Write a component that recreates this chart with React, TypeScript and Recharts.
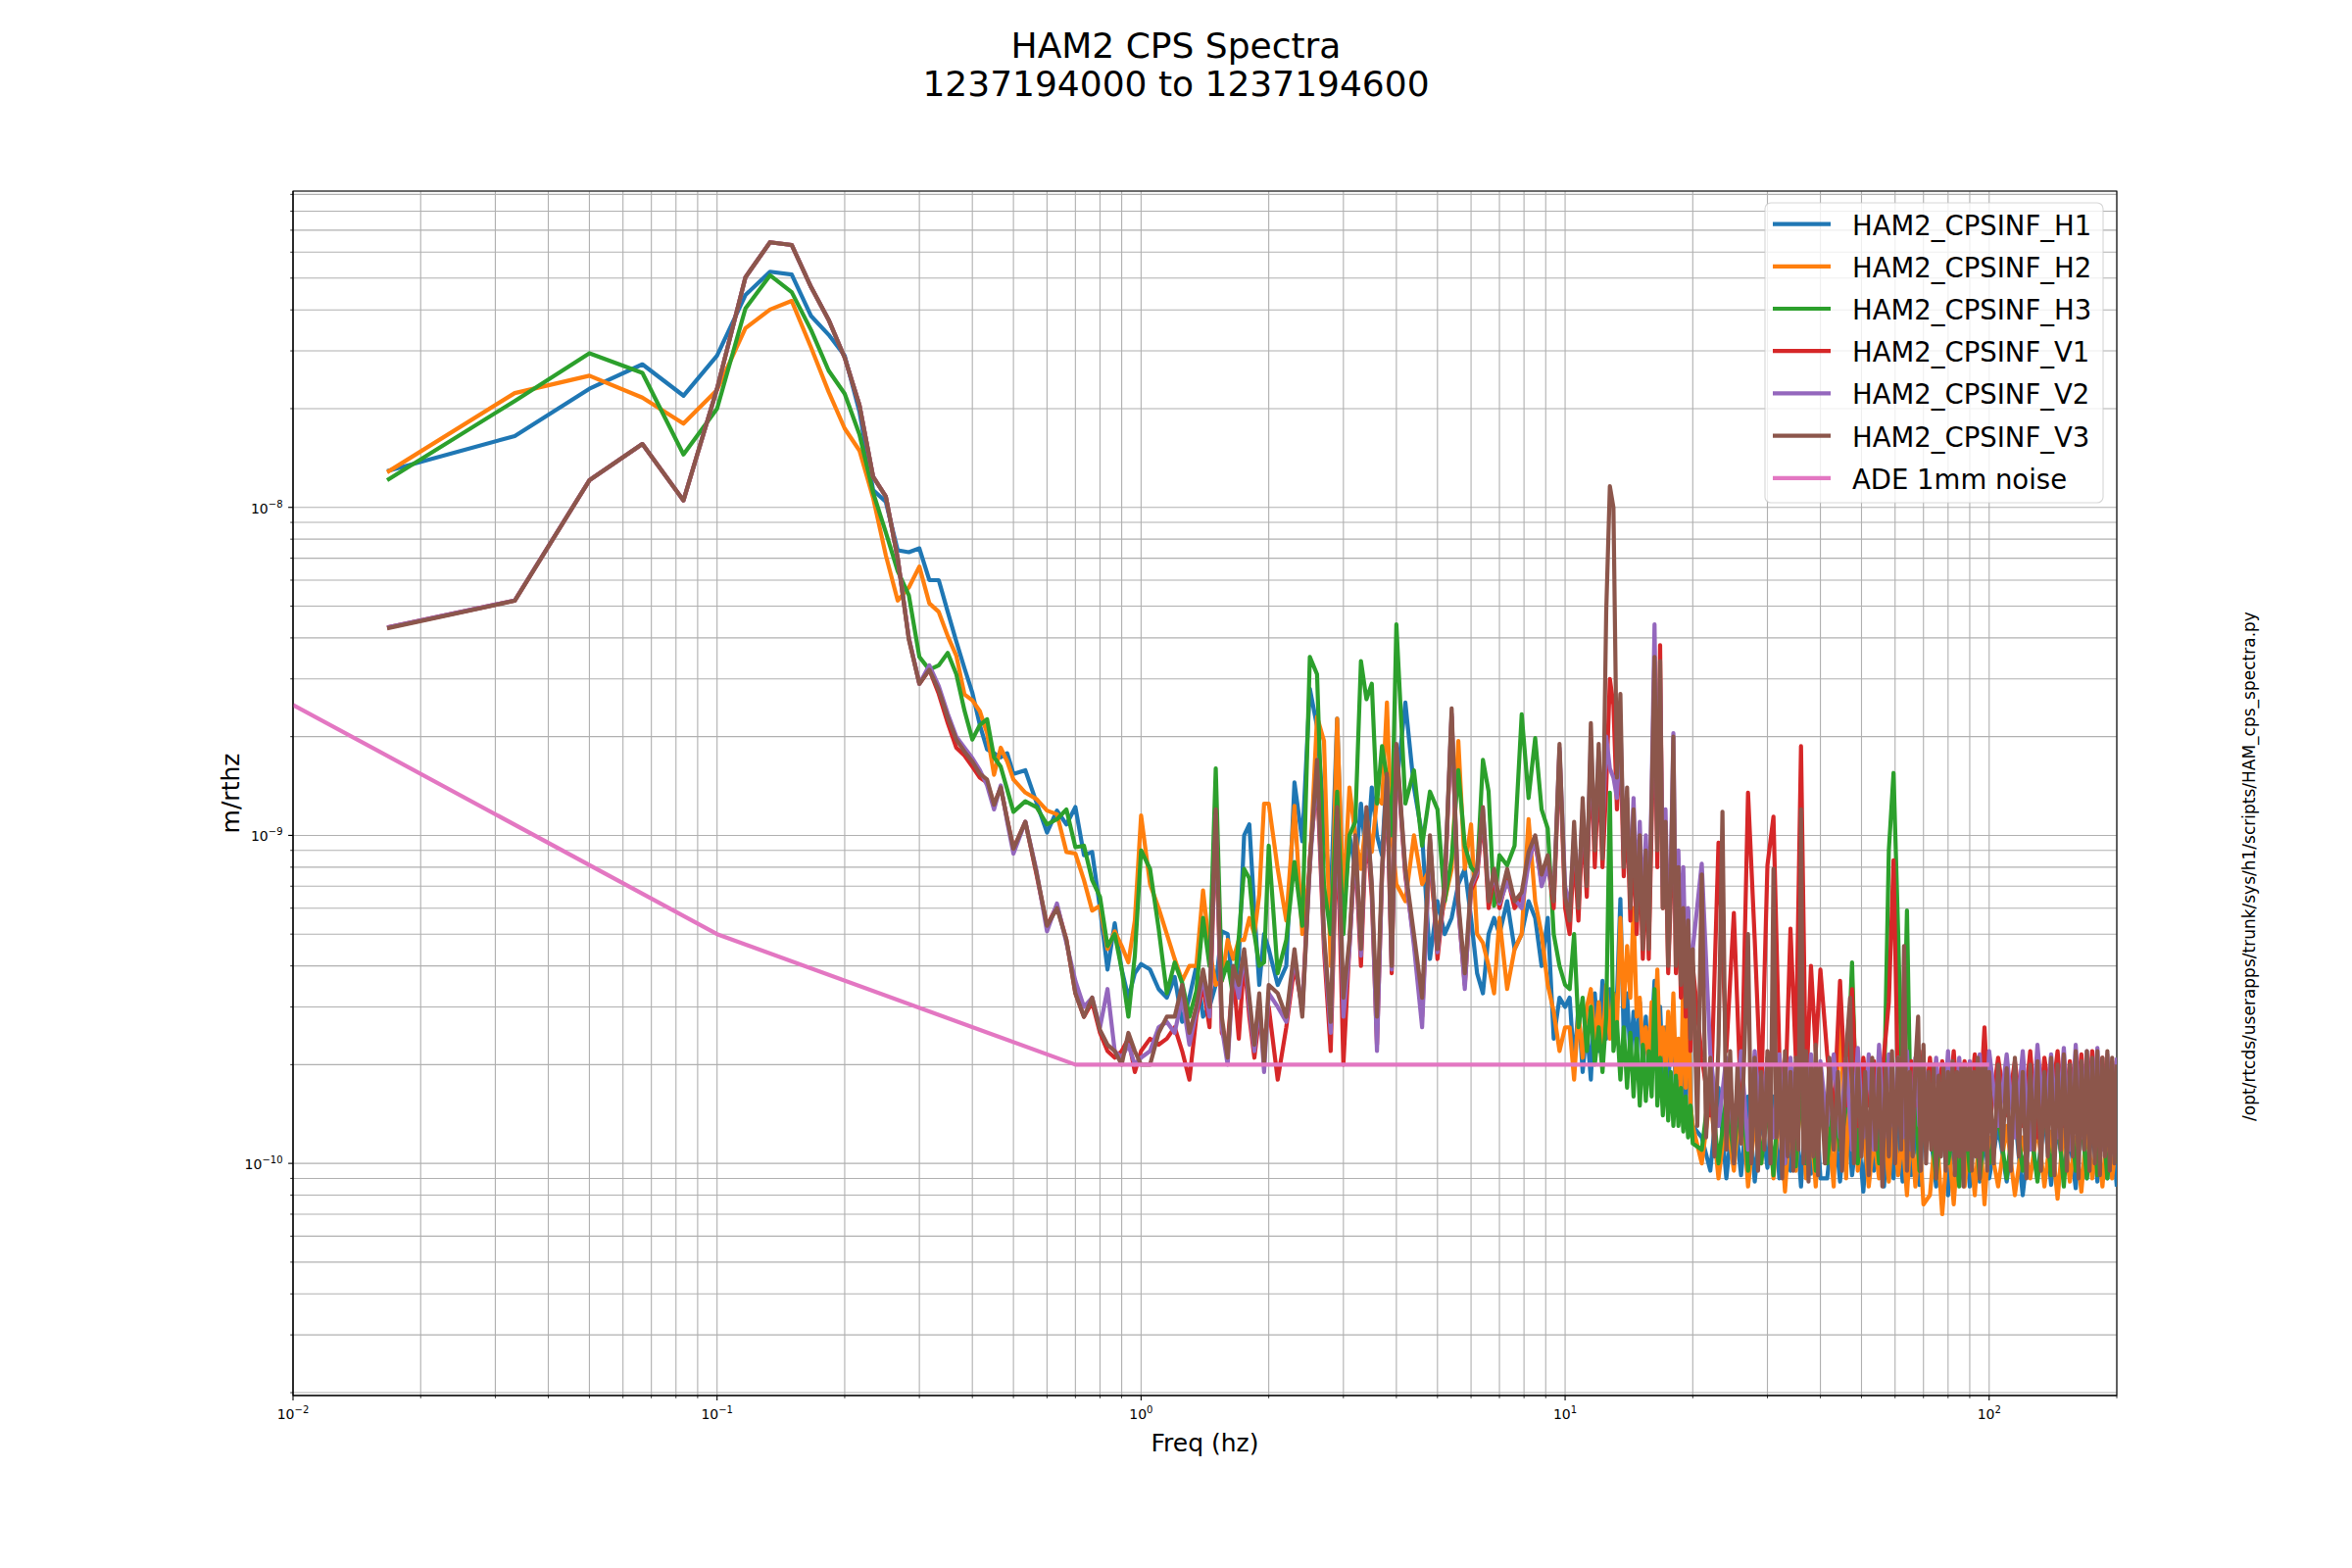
import React from "react";
import { LineChart, Line, XAxis, YAxis, CartesianGrid, ReferenceArea } from "recharts";

// amplitude values below are in units of 1e-10 m/rthz
const UNIT = 1e-10;

// shared frequency grid, 1/60 Hz bins up to 1 Hz, then coarser up to 10 Hz
const freqLow = [
  0.01667, 0.03333, 0.05, 0.06667, 0.08333, 0.1, 0.11667, 0.13333, 0.15, 0.16667,
  0.18333, 0.2, 0.21667, 0.23333, 0.25, 0.26667, 0.28333, 0.3, 0.31667, 0.33333,
  0.35, 0.36667, 0.38333, 0.4, 0.41667, 0.43333, 0.45, 0.46667, 0.48333, 0.5,
  0.53333, 0.56667, 0.6, 0.63333, 0.66667, 0.7, 0.73333, 0.76667, 0.8, 0.83333,
  0.86667, 0.9, 0.93333, 0.96667, 1.0,
  1.05, 1.1, 1.15, 1.2, 1.25, 1.3, 1.35, 1.4, 1.45, 1.5,
  1.55, 1.6, 1.65, 1.7, 1.75, 1.8, 1.85, 1.9, 1.95, 2.0,
  2.1, 2.2, 2.3, 2.4, 2.5, 2.6, 2.7, 2.8, 2.9, 3.0,
  3.1, 3.2, 3.3, 3.4, 3.5, 3.6, 3.7, 3.8, 3.9, 4.0,
  4.2, 4.4, 4.6, 4.8, 5.0, 5.2, 5.4, 5.6, 5.8, 6.0,
  6.2, 6.4, 6.6, 6.8, 7.0,
  7.3, 7.6, 7.9, 8.2, 8.5, 8.8, 9.1, 9.4, 9.7, 10.0,
];

const freqMid = [
  10.25, 10.5, 10.75, 11, 11.25, 11.5, 11.75, 12, 12.25, 12.5,
  12.75, 13, 13.25, 13.5, 13.75, 14, 14.25, 14.5, 14.75, 15,
  15.25, 15.5, 15.75, 16, 16.25, 16.5, 16.75, 17, 17.25, 17.5,
  17.75, 18, 18.25, 18.5, 18.75, 19, 19.25, 19.5, 19.75, 20,
];

const freqHigh = [
  21, 22, 23, 24, 25, 26, 27, 28, 29, 30, 31, 32, 33, 34, 35, 36, 37, 38, 39, 40,
  41.5, 43, 44.5, 46, 47.5, 49, 50.5, 52, 53.5, 55, 56.5, 58, 59.5, 61, 62.5, 64, 65.5, 67, 68.5, 70,
  72.5, 75, 77.5, 80, 82.5, 85, 87.5, 90, 92.5, 95, 97.5, 100,
  105, 110, 115, 120, 125, 130, 135, 140, 145, 150, 155, 160, 165, 170, 175, 180, 185, 190, 195, 200,
];

// V3 is drawn on top, its noise floor band above 20 Hz is sampled finer
const freqV3High = [
  20.5, 21, 21.5, 22, 22.5, 23, 23.5, 24, 24.5, 25, 25.5, 26, 26.5, 27, 27.5, 28, 28.5, 29, 29.5, 30,
  30.5, 31, 31.5, 32, 32.5, 33, 33.5, 34, 34.5, 35, 35.5, 36, 36.5, 37, 37.5, 38, 38.5, 39, 39.5, 40,
  41, 42, 43, 44, 45, 46, 47, 48, 49, 50, 51, 52, 53, 54, 55, 56, 57, 58, 59, 60,
  61, 62, 63, 64, 65, 66, 67, 68, 69, 70, 71, 72, 73, 74, 75, 76, 77, 78, 79, 80,
  81, 82, 83, 84, 85, 86, 87, 88, 89, 90, 91, 92, 93, 94, 95, 96, 97, 98, 99, 100,
  102.5, 105, 107.5, 110, 112.5, 115, 117.5, 120, 122.5, 125, 127.5, 130, 132.5, 135, 137.5, 140, 142.5, 145, 147.5, 150,
  152.5, 155, 157.5, 160, 162.5, 165, 167.5, 170, 172.5, 175, 177.5, 180, 182.5, 185, 187.5, 190, 192.5, 195, 197.5, 200,
];

const h1Low = [
  129, 165, 230, 273, 219, 290, 444, 523, 513, 383,
  336, 290, 196, 113, 104, 74, 73, 75, 60, 60,
  48, 39, 32.3, 27.2, 21.7, 18.3, 17.8, 17.3, 17.8, 15.4,
  15.8, 12.6, 10.2, 11.9, 10.8, 12.2, 8.7, 8.9, 6.0, 3.9,
  5.4, 3.9, 3.2, 3.8, 4.05,
  3.9, 3.4, 3.2, 3.7, 2.7, 3.2, 4.0, 2.8, 3.0, 3.5,
  5.1, 5.0, 3.2, 4.2, 10, 10.8, 5.9, 3.5, 5.0, 4.5,
  3.5, 4.0, 14.5, 9.6, 28, 21.5, 11.2, 6.3, 22.7, 5.6,
  10, 7.9, 12.5, 8.3, 14, 10, 8.7, 15.8, 10, 14,
  25.4, 14, 10, 4.2, 6.3, 5.0, 5.6, 7.1, 7.9, 5.6,
  3.8, 3.3, 5.0, 5.6, 5.0,
  6.3, 4.5, 5.0, 6.3, 5.6, 4.0, 5.6, 2.4, 3.2, 3.0,
];
const h1Mid = [
  3.2, 2.0, 3.0, 1.9, 2.6, 1.8, 3.3, 2.2, 3.6, 2.4,
  3.4, 2.6, 3.2, 6.4, 2.4, 3.3, 2.1, 2.9, 2.2, 3.1,
  2.0, 2.8, 1.9, 2.5, 3.6, 2.2, 3.0, 1.9, 2.6, 1.7,
  2.4, 2.9, 1.6, 2.2, 1.5, 2.0, 1.4, 5.9, 1.5, 1.3,
];
const h1High = [
  1.2, 0.95, 1.7, 0.9, 1.5, 0.92, 1.6, 0.88, 1.4, 0.97, 1.6, 0.9, 1.5, 0.95, 1.4, 0.85, 1.5, 0.93, 1.6, 0.9,
  0.9, 1.4, 0.88, 1.5, 0.92, 1.3, 0.82, 1.4, 0.95, 1.3, 0.85, 1.5, 0.9, 1.3, 0.88, 1.4, 0.92, 1.3, 0.86, 1.4,
  1.3, 0.85, 1.4, 0.8, 1.3, 0.9, 1.4, 0.85, 1.3, 0.88, 1.2, 0.9,
  1.3, 0.88, 1.4, 0.8, 1.3, 0.9, 1.4, 0.86, 1.3, 0.92, 1.2, 0.84, 1.4, 0.9, 1.3, 0.88, 1.4, 0.9, 1.3, 0.85,
];

const h2Low = [
  128, 223, 252, 216, 180, 228, 352, 401, 426, 307,
  225, 174, 149, 107, 71.5, 52, 57, 66, 51, 48,
  40.5, 35.3, 26.9, 25.8, 23.9, 20.5, 15.3, 18.5, 16.8, 14.8,
  13.5, 12.9, 11.9, 11.6, 8.9, 8.8, 7.3, 5.9, 6.1, 4.5,
  5.1, 4.6, 4.1, 5.5, 11.5,
  7.1, 6.0, 5.0, 4.2, 3.6, 4.0, 4.0, 6.8, 4.5, 3.5,
  3.6, 4.8, 4.2, 4.8, 4.8, 5.6, 5.0, 6.6, 12.5, 12.5,
  7.9, 5.5, 12.3, 5.0, 7.9, 23, 19.4, 4.0, 22.7, 6.3,
  14, 10, 7.9, 11.5, 8.9, 13, 12.5, 25.4, 10, 7.1,
  6.3, 10, 7.1, 7.9, 5.0, 6.3, 7.9, 19.4, 7.9, 10.8,
  5.0, 4.7, 4.0, 3.3, 5.6,
  3.4, 4.5, 5.0, 11.2, 6.3, 5.0, 3.5, 2.9, 2.2, 2.6,
];
const h2Mid = [
  2.6, 1.8, 2.9, 2.1, 3.0, 3.4, 2.3, 3.1, 2.2, 3.5,
  2.4, 3.3, 2.6, 5.6, 3.0, 4.6, 3.2, 6.0, 2.8, 3.2,
  2.2, 2.6, 2.0, 3.1, 2.4, 3.9, 2.1, 2.6, 1.9, 2.9,
  2.0, 3.3, 1.8, 2.4, 1.6, 3.8, 1.7, 4.6, 1.5, 1.3,
];
const h2High = [
  1.0, 1.6, 0.9, 1.4, 0.95, 1.7, 0.85, 1.3, 1.0, 1.6, 0.9, 1.5, 0.82, 1.4, 0.95, 1.7, 0.9, 1.3, 0.85, 1.5,
  1.4, 0.85, 3.1, 0.9, 3.7, 0.95, 1.3, 0.85, 1.2, 0.9, 1.3, 0.88, 1.4, 0.92, 1.2, 0.8, 1.3, 0.85, 1.2, 0.75,
  0.8, 1.3, 0.7, 1.2, 0.75, 1.3, 0.85, 1.2, 0.8, 1.3, 0.75, 1.2,
  0.85, 1.3, 0.8, 1.2, 0.9, 1.3, 0.85, 1.25, 0.78, 1.3, 0.88, 1.2, 0.82, 1.3, 0.9, 1.2, 0.85, 1.3, 0.9, 1.2,
];

const h3Low = [
  121, 211, 295, 257, 145, 200, 404, 510, 453, 347,
  261, 222, 167, 111, 84, 64, 54, 35, 32, 33,
  36, 31, 24, 19.6, 21.7, 22.6, 17.3, 16.2, 13.8, 11.8,
  12.7, 12.2, 10.8, 11.2, 12, 9.2, 9.3, 7.3, 6.5, 4.6,
  5.0, 3.9, 2.8, 4.3, 9.0,
  7.9, 5.2, 3.3, 4.1, 3.55, 2.8, 3.35, 5.6, 4.0, 16,
  3.6, 4.1, 3.2, 4.9, 7.9, 7.4, 5.0, 4.0, 4.1, 9.3,
  3.8, 4.8, 8.3, 5.3, 35, 31, 7.0, 5.0, 13.6, 5.0,
  10, 11, 34, 26, 29, 12.5, 18.7, 15, 10, 44,
  12.5, 15.8, 9.3, 13.6, 12, 6.3, 8.5, 15.8, 9.3, 8.0,
  7.6, 17, 13.6, 6.1, 8.7,
  8.1, 9.3, 23.4, 13, 19.8, 12, 10.5, 5.0, 4.0, 3.5,
];
const h3Mid = [
  3.4, 5.0, 2.6, 3.2, 2.2, 3.0, 2.0, 2.6, 1.9, 2.8,
  13.5, 2.2, 2.7, 1.8, 2.6, 1.7, 2.5, 1.6, 2.4, 1.5,
  2.3, 1.55, 2.2, 1.6, 3.4, 1.5, 2.1, 1.4, 2.0, 1.35,
  1.9, 1.3, 1.85, 1.3, 1.7, 1.25, 1.6, 1.2, 1.5, 1.15,
];
const h3High = [
  1.1, 1.8, 1.0, 1.6, 1.05, 1.9, 0.95, 1.7, 1.0, 1.5, 0.92, 1.8, 1.0, 1.6, 0.98, 1.7, 1.0, 1.5, 0.95, 1.6,
  1.0, 1.6, 1.1, 1.5, 4.1, 1.0, 1.7, 1.1, 1.5, 1.0, 1.6, 9.0, 15.5, 5.1, 1.4, 5.9, 1.1, 1.6, 0.95, 1.5,
  1.4, 0.9, 1.5, 1.0, 1.3, 0.85, 1.4, 0.95, 1.5, 0.9, 1.3, 1.0,
  1.4, 0.9, 1.5, 0.95, 1.3, 0.88, 1.5, 0.92, 1.4, 0.85, 1.5, 0.95, 1.4, 0.9, 1.5, 0.92, 1.4, 0.9, 1.3, 1.0,
];

const v1Low = [
  43, 52, 121, 156, 105, 230, 503, 643, 631, 469,
  373, 286, 205, 124, 108, 70, 40, 29, 32, 27,
  22, 18.5, 17.5, 16.2, 15, 14.5, 12.4, 14, 11.2, 9.1,
  11, 7.6, 5.3, 6.1, 4.8, 3.3, 2.8, 3.1, 2.5, 2.2,
  2.1, 2.2, 2.4, 1.9, 2.2,
  2.4, 2.3, 2.4, 2.6, 2.2, 1.8, 2.8, 3.5, 2.6, 11,
  2.5, 2.3, 3.8, 2.4, 4.2, 2.8, 2.1, 2.8, 2.3, 3.0,
  1.8, 2.6, 4.0, 3.0, 8.5, 15, 4.5, 2.2, 11, 2.0,
  4.6, 9, 4.0, 11, 6.5, 2.3, 7.5, 14, 3.8, 18,
  7.5, 4.8, 2.8, 9.5, 4.2, 6.8, 23, 6.0, 3.5, 6.8,
  7.5, 11.5, 6.0, 7.5, 6.0,
  7.5, 6.0, 6.5, 8.5, 9.5, 7.2, 8.3, 6.0, 18, 6.0,
];
const v1Mid = [
  5, 9, 5.5, 11, 6.5, 18, 8, 16, 8, 14,
  30, 25, 12, 20, 7.5, 12, 5.5, 10, 5, 9,
  4.2, 8, 4.2, 11, 28, 8, 38, 6, 10, 3.8,
  6.5, 15, 3.8, 7, 3.2, 5.5, 2.8, 5, 2.2, 4,
];
const v1High = [
  2.1, 1.4, 9.5, 2.2, 5.8, 1.5, 13.5, 4.8, 1.6, 8.1, 11.4, 2.15, 1.5, 5.2, 2.1, 18.7, 1.6, 4.0, 2.2, 3.9,
  2.15, 1.4, 3.6, 1.5, 3.4, 1.3, 2.1, 1.5, 2.05, 1.4, 2.15, 3.1, 8.4, 1.6, 2.1, 1.4, 2.05, 1.5, 2.2, 1.3,
  2.1, 1.3, 2.05, 1.4, 2.2, 1.3, 2.05, 1.5, 2.15, 1.4, 2.6, 1.3,
  2.1, 1.4, 2.05, 1.3, 2.2, 1.2, 2.1, 1.5, 2.2, 1.3, 2.05, 1.4, 2.15, 1.3, 2.2, 1.4, 2.1, 1.2, 2.05, 1.3,
];

const v2Low = [
  43, 52, 121, 156, 105, 230, 503, 643, 631, 469,
  373, 286, 205, 124, 108, 70, 40, 29, 33, 28.5,
  23.5, 20, 18.5, 17.2, 15.8, 14.2, 12, 14.2, 11, 8.8,
  11, 7.8, 5.1, 6.2, 4.7, 3.6, 3.0, 3.2, 2.6, 3.4,
  2.2, 2.1, 2.3, 2.0, 2.1,
  2.2, 2.6, 2.7, 2.5, 3.2, 2.3, 2.9, 3.7, 2.8, 11.5,
  2.6, 2.0, 3.9, 3.2, 4.4, 3.0, 2.2, 3.1, 1.9, 3.3,
  3.0, 2.7, 4.3, 2.9, 8.0, 16, 4.8, 2.5, 11.5, 2.8,
  4.5, 9.5, 4.3, 11.8, 7.0, 2.2, 7.7, 15, 3.9, 18.5,
  7.7, 4.6, 2.6, 9.7, 4.4, 7.0, 23.5, 6.1, 3.4, 7.0,
  7.7, 12, 6.5, 7.6, 6.2,
  7.2, 6.4, 6.0, 8.2, 9.8, 7.0, 8.0, 6.5, 18.5, 7.0,
];
const v2Mid = [
  6, 10, 6.5, 12, 7.5, 19, 9.5, 18, 10, 20,
  16, 15, 13, 22, 9, 13, 7, 13, 6.5, 11,
  5.5, 10, 5.5, 14, 44, 10, 30, 7, 12, 5,
  8, 20.5, 5, 9, 4.5, 8, 3.8, 6, 3, 4.5,
];
const v2High = [
  8.2, 2.15, 1.3, 2.1, 1.2, 2.2, 1.1, 2.2, 1.3, 2.1, 1.2, 2.15, 1.0, 2.1, 1.3, 2.2, 1.1, 2.15, 1.2, 2.05,
  1.3, 2.15, 1.2, 2.1, 1.1, 2.25, 1.2, 2.15, 1.1, 2.3, 1.2, 2.15, 1.3, 2.1, 1.2, 2.2, 1.1, 2.1, 1.3, 2.05,
  1.3, 2.1, 1.2, 2.2, 1.1, 2.1, 1.3, 2.05, 1.2, 2.15, 1.1, 2.2,
  1.3, 2.15, 1.2, 2.2, 1.1, 2.3, 1.3, 2.15, 1.2, 2.25, 1.1, 2.3, 1.2, 2.2, 1.3, 2.25, 1.1, 2.15, 1.2, 2.1,
];

const v3Low = [
  42.8, 51.9, 121, 156, 105, 230, 503, 643, 631, 469,
  373, 286, 205, 124, 108, 70, 39.5, 29, 32, 27.7,
  22.9, 19.6, 18, 16.8, 15.4, 14.8, 12.4, 14, 11.2, 9.1,
  11, 7.7, 5.3, 6.0, 4.8, 3.3, 2.8, 3.2, 2.55, 2.3,
  2.2, 2.0, 2.5, 2.2, 2.0,
  2.0, 2.5, 2.8, 2.8, 3.5, 2.5, 3.0, 3.9, 3.0, 12,
  2.8, 2.1, 4.0, 3.5, 4.5, 3.2, 2.3, 3.3, 2.0, 3.5,
  3.3, 2.8, 4.5, 2.8, 8.3, 17, 5.0, 2.7, 12.2, 3.2,
  4.8, 10, 4.5, 12.2, 7.1, 2.8, 7.9, 15.4, 4.0, 19,
  7.9, 5.0, 3.2, 10, 4.5, 7.1, 24.4, 6.3, 3.8, 7.1,
  7.9, 12.2, 6.3, 7.9, 6.3,
  7.9, 6.3, 6.7, 8.9, 10, 7.6, 8.7, 6.3, 19, 6.5,
];
const v3Mid = [
  5.5, 11, 6, 13, 7, 22, 9, 19, 8.5, 48,
  116, 100, 15, 27, 8, 14, 6, 12, 5.5, 10,
  4.5, 9, 4.5, 13, 35, 9, 34, 6, 11, 4,
  7, 20, 4, 8, 3.5, 6, 3, 5.5, 2.4, 4.5,
];
const v3High = [
  1.3, 7.6, 1.2, 2.1, 1.05, 2.3, 11.8, 1.1, 2.2, 1.0, 2.0, 1.15, 2.3, 5.0, 1.0, 2.1, 0.95, 1.9, 1.1, 2.2,
  1.0, 7.9, 1.2, 2.0, 0.9, 2.2, 1.05, 1.9, 0.95, 2.1, 1.1, 12, 1.0, 2.2, 0.88, 2.0, 1.05, 2.3, 0.92, 2.0,
  1.0, 2.1, 1.1, 1.9, 0.95, 2.2, 3.2, 1.0, 2.0, 1.05, 1.9, 0.92, 2.1, 1.1, 1.95, 0.85, 2.0, 1.05, 2.2, 1.0,
  2.1, 1.1, 4.6, 0.95, 1.9, 1.05, 2.0, 2.8, 0.95, 2.3, 1.0, 1.9, 1.1, 2.0, 0.9, 1.85, 1.05, 2.0, 0.95, 1.9,
  1.1, 2.05, 0.92, 1.9, 1.05, 2.0, 0.85, 1.95, 1.1, 2.0, 0.95, 1.9, 1.05, 2.1, 0.9, 1.95, 1.1, 2.0, 0.95, 1.9,
  1.0, 2.0, 1.1, 1.95, 0.95, 2.1, 1.05, 1.9, 0.9, 2.0, 1.1, 2.05, 0.95, 1.9, 1.05, 2.1, 0.92, 2.0, 1.1, 2.15,
  0.95, 2.0, 1.05, 2.2, 0.9, 2.05, 1.1, 2.2, 0.95, 2.1, 1.0, 2.2, 0.92, 2.1, 1.05, 2.2, 0.95, 2.1, 1.0, 2.0,
];

const adeFreq = [0.01, 0.1, 0.7, 100];
const adeNoise = [25, 5, 2, 2];

const xTicks = [
  0.01, 0.02, 0.03, 0.04, 0.05, 0.06, 0.07, 0.08, 0.09,
  0.1, 0.2, 0.3, 0.4, 0.5, 0.6, 0.7, 0.8, 0.9,
  1, 2, 3, 4, 5, 6, 7, 8, 9,
  10, 20, 30, 40, 50, 60, 70, 80, 90,
  100, 200,
];
const xMajor = [0.01, 0.1, 1, 10, 100];
const xMajorExp = ["\u22122", "\u22121", "0", "1", "2"];

const yTicks = [
  2e-11, 3e-11, 4e-11, 5e-11, 6e-11, 7e-11, 8e-11, 9e-11,
  1e-10, 2e-10, 3e-10, 4e-10, 5e-10, 6e-10, 7e-10, 8e-10, 9e-10,
  1e-9, 2e-9, 3e-9, 4e-9, 5e-9, 6e-9, 7e-9, 8e-9, 9e-9,
  1e-8, 2e-8, 3e-8, 4e-8, 5e-8, 6e-8, 7e-8, 8e-8, 9e-8,
];
const yMajor = [1e-10, 1e-9, 1e-8];
const yMajorExp = ["\u221210", "\u22129", "\u22128"];

const X_MIN = 0.01;
const X_MAX = 200;
const Y_MIN = 1.96e-11;
const Y_MAX = 9.21e-8;

const toPoints = (parts: [number[], number[]][]) =>
  parts.flatMap(([fs, vs]) => fs.map((f, i) => ({ f, y: vs[i] * UNIT })));

const series = [
  { key: "h1", name: "HAM2_CPSINF_H1", color: "#1f77b4", data: toPoints([[freqLow, h1Low], [freqMid, h1Mid], [freqHigh, h1High]]) },
  { key: "h2", name: "HAM2_CPSINF_H2", color: "#ff7f0e", data: toPoints([[freqLow, h2Low], [freqMid, h2Mid], [freqHigh, h2High]]) },
  { key: "h3", name: "HAM2_CPSINF_H3", color: "#2ca02c", data: toPoints([[freqLow, h3Low], [freqMid, h3Mid], [freqHigh, h3High]]) },
  { key: "v1", name: "HAM2_CPSINF_V1", color: "#d62728", data: toPoints([[freqLow, v1Low], [freqMid, v1Mid], [freqHigh, v1High]]) },
  { key: "v2", name: "HAM2_CPSINF_V2", color: "#9467bd", data: toPoints([[freqLow, v2Low], [freqMid, v2Mid], [freqHigh, v2High]]) },
  { key: "v3", name: "HAM2_CPSINF_V3", color: "#8c564b", data: toPoints([[freqLow, v3Low], [freqMid, v3Mid], [freqV3High, v3High]]) },
  { key: "ade", name: "ADE 1mm noise", color: "#e377c2", data: toPoints([[adeFreq, adeNoise]]) },
];

const FONT = "DejaVu Sans, sans-serif";

const XTick = (props: any) => {
  const { x, y, payload } = props;
  const idx = xMajor.indexOf(payload.value);
  const major = idx >= 0;
  return (
    <g>
      <line x1={x} x2={x} y1={y} y2={y + (major ? 4.9 : 2.8)} stroke="#000" strokeWidth={major ? 1.1 : 0.8} />
      {major && (
        <text x={x} y={y + 24} textAnchor="middle" fontSize={14} fontFamily={FONT} fill="#000">
          10
          <tspan dy={-6} fontSize={10}>
            {xMajorExp[idx]}
          </tspan>
        </text>
      )}
    </g>
  );
};

const YTick = (props: any) => {
  const { x, y, payload } = props;
  const idx = yMajor.indexOf(payload.value);
  const major = idx >= 0;
  return (
    <g>
      <line x1={x - (major ? 4.9 : 2.8)} x2={x} y1={y} y2={y} stroke="#000" strokeWidth={major ? 1.1 : 0.8} />
      {major && (
        <text x={x - 10.5} y={y + 6} textAnchor="end" fontSize={14} fontFamily={FONT} fill="#000">
          10
          <tspan dy={-6} fontSize={10}>
            {yMajorExp[idx]}
          </tspan>
        </text>
      )}
    </g>
  );
};

export default function App() {
  return (
    <div style={{ position: "absolute", left: 0, top: 0, width: 2400, height: 1600, background: "#fff" }}>
      <LineChart width={2400} height={1600} margin={{ top: 195, right: 240, bottom: 136, left: 239 }}>
        <CartesianGrid stroke="#b0b0b0" strokeWidth={1.1} />
        <XAxis
          dataKey="f"
          type="number"
          scale="log"
          domain={[X_MIN, X_MAX]}
          allowDataOverflow
          ticks={xTicks}
          interval={0}
          tick={(p: any) => <XTick {...p} />}
          tickLine={false}
          tickSize={0}
          tickMargin={0}
          axisLine={{ stroke: "#000", strokeWidth: 1.1 }}
          height={40}
        />
        <YAxis
          type="number"
          scale="log"
          domain={[Y_MIN, Y_MAX]}
          allowDataOverflow
          ticks={yTicks}
          interval={0}
          tick={(p: any) => <YTick {...p} />}
          tickLine={false}
          tickSize={0}
          tickMargin={0}
          axisLine={{ stroke: "#000", strokeWidth: 1.1 }}
          width={60}
        />
        {series.map((s) => (
          <Line
            key={s.key}
            data={s.data}
            dataKey="y"
            name={s.name}
            type="linear"
            stroke={s.color}
            strokeWidth={4.2}
            strokeLinejoin="round"
            dot={false}
            activeDot={false}
            isAnimationActive={false}
          />
        ))}
        <ReferenceArea x1={X_MIN} x2={X_MAX} y1={Y_MIN} y2={Y_MAX} fill="none" stroke="#000" strokeWidth={1.1} ifOverflow="visible" />
      </LineChart>

      <svg width={2400} height={1600} style={{ position: "absolute", left: 0, top: 0, pointerEvents: "none" }}>
        <text x={1200} y={59} textAnchor="middle" fontSize={36} fontFamily={FONT}>
          HAM2 CPS Spectra
        </text>
        <text x={1200} y={98} textAnchor="middle" fontSize={36} fontFamily={FONT}>
          1237194000 to 1237194600
        </text>
        <text x={1229.5} y={1481} textAnchor="middle" fontSize={25} fontFamily={FONT}>
          Freq (hz)
        </text>
        <text transform="translate(244, 809.5) rotate(-90)" textAnchor="middle" fontSize={25} fontFamily={FONT}>
          m/rthz
        </text>
        <text transform="translate(2301, 884) rotate(-90)" textAnchor="middle" fontSize={17} fontFamily={FONT}>
          /opt/rtcds/userapps/trunk/sys/h1/scripts/HAM_cps_spectra.py
        </text>

        <rect x={1801} y={207} width={345} height={306} rx={6} fill="#fff" fillOpacity={0.8} stroke="#cccccc" strokeOpacity={0.8} strokeWidth={1.1} />
        {series.map((s, i) => {
          const cy = 207 + 21.6 + 43.2 * i;
          return (
            <g key={s.key}>
              <line x1={1809} x2={1868} y1={cy} y2={cy} stroke={s.color} strokeWidth={4.2} />
              <text x={1890} y={cy + 11} fontSize={27.5} fontFamily={FONT}>
                {s.name}
              </text>
            </g>
          );
        })}
      </svg>
    </div>
  );
}
